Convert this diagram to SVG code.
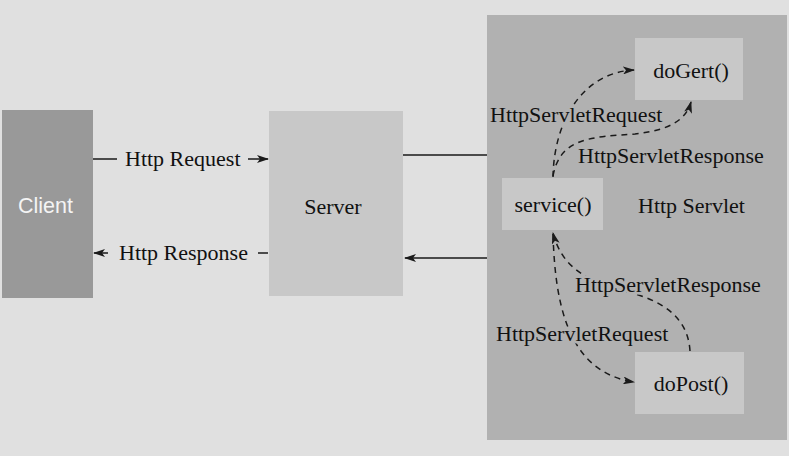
<svg xmlns="http://www.w3.org/2000/svg" width="789" height="456" viewBox="0 0 789 456">
<defs>
<style>
.t{font-family:"Liberation Serif","Times New Roman",serif;font-size:22px;fill:#111;}
.lbl{paint-order:stroke;stroke:#b1b1b1;stroke-width:5px;stroke-linejoin:round;}
.solid{fill:none;stroke:#1a1a1a;stroke-width:1.5;}
.dash{fill:none;stroke:#1a1a1a;stroke-width:1.5;stroke-dasharray:6 5;}
.box{fill:#c8c8c8;}
</style>
<marker id="ah" viewBox="0 0 12 8" refX="11" refY="4" markerWidth="12" markerHeight="8" markerUnits="userSpaceOnUse" orient="auto">
<path d="M0,0 L12,4 L0,8 L3,4 z" fill="#1a1a1a"/>
</marker>
</defs>
<rect x="0" y="0" width="789" height="456" fill="#e0e0e0"/>
<g id="client">
<rect x="2" y="110" width="91" height="188" fill="#999999"/>
<text x="45.5" y="213" text-anchor="middle" style="font-family:'Liberation Sans',Arial,sans-serif;font-size:21.5px;fill:#f4f4f4;">Client</text>
</g>
<g id="server">
<rect x="269" y="111" width="134" height="185" class="box"/>
<text x="333" y="214" text-anchor="middle" class="t">Server</text>
</g>
<g id="http-servlet">
<rect x="487" y="15" width="300" height="425" fill="#b1b1b1"/>
<text x="638" y="213" class="t">Http Servlet</text>
</g>
<g id="doGert">
<rect x="635" y="38" width="108" height="62" class="box"/>
<text x="691" y="78" text-anchor="middle" class="t">doGert()</text>
</g>
<g id="service">
<rect x="502" y="178" width="101" height="52" class="box"/>
<text x="553" y="212" text-anchor="middle" class="t">service()</text>
</g>
<g id="doPost">
<rect x="635" y="352" width="109" height="62" class="box"/>
<text x="691" y="391" text-anchor="middle" class="t">doPost()</text>
</g>
<g id="connectors">
<line x1="93" y1="159" x2="117" y2="159" class="solid"/>
<line x1="248" y1="159" x2="268" y2="159" class="solid" marker-end="url(#ah)"/>
<text x="125" y="166" class="t">Http Request</text>
<line x1="268" y1="253" x2="258" y2="253" class="solid"/>
<line x1="108" y1="253" x2="94" y2="253" class="solid" marker-end="url(#ah)"/>
<text x="119" y="260" class="t">Http Response</text>
<line x1="403" y1="155" x2="487" y2="155" class="solid"/>
<line x1="487" y1="258" x2="405" y2="258" class="solid" marker-end="url(#ah)"/>
<path d="M553,177 C554,118 585,72 634,70" class="dash" marker-end="url(#ah)"/>
<path d="M553,176 C560,138 590,137 635,134 C670,130 686,120 691,102" class="dash" marker-end="url(#ah)"/>
<path d="M690,351 C688,316 660,300 628,292 C588,282 562,268 553,233" class="dash" marker-end="url(#ah)"/>
<path d="M553,234 C555,300 566,372 634,382" class="dash" marker-end="url(#ah)"/>
<text x="490" y="122" class="t lbl">HttpServletRequest</text>
<text x="578" y="163" class="t lbl">HttpServletResponse</text>
<text x="575" y="292" class="t lbl">HttpServletResponse</text>
<text x="496" y="341" class="t lbl">HttpServletRequest</text>
</g>
</svg>
